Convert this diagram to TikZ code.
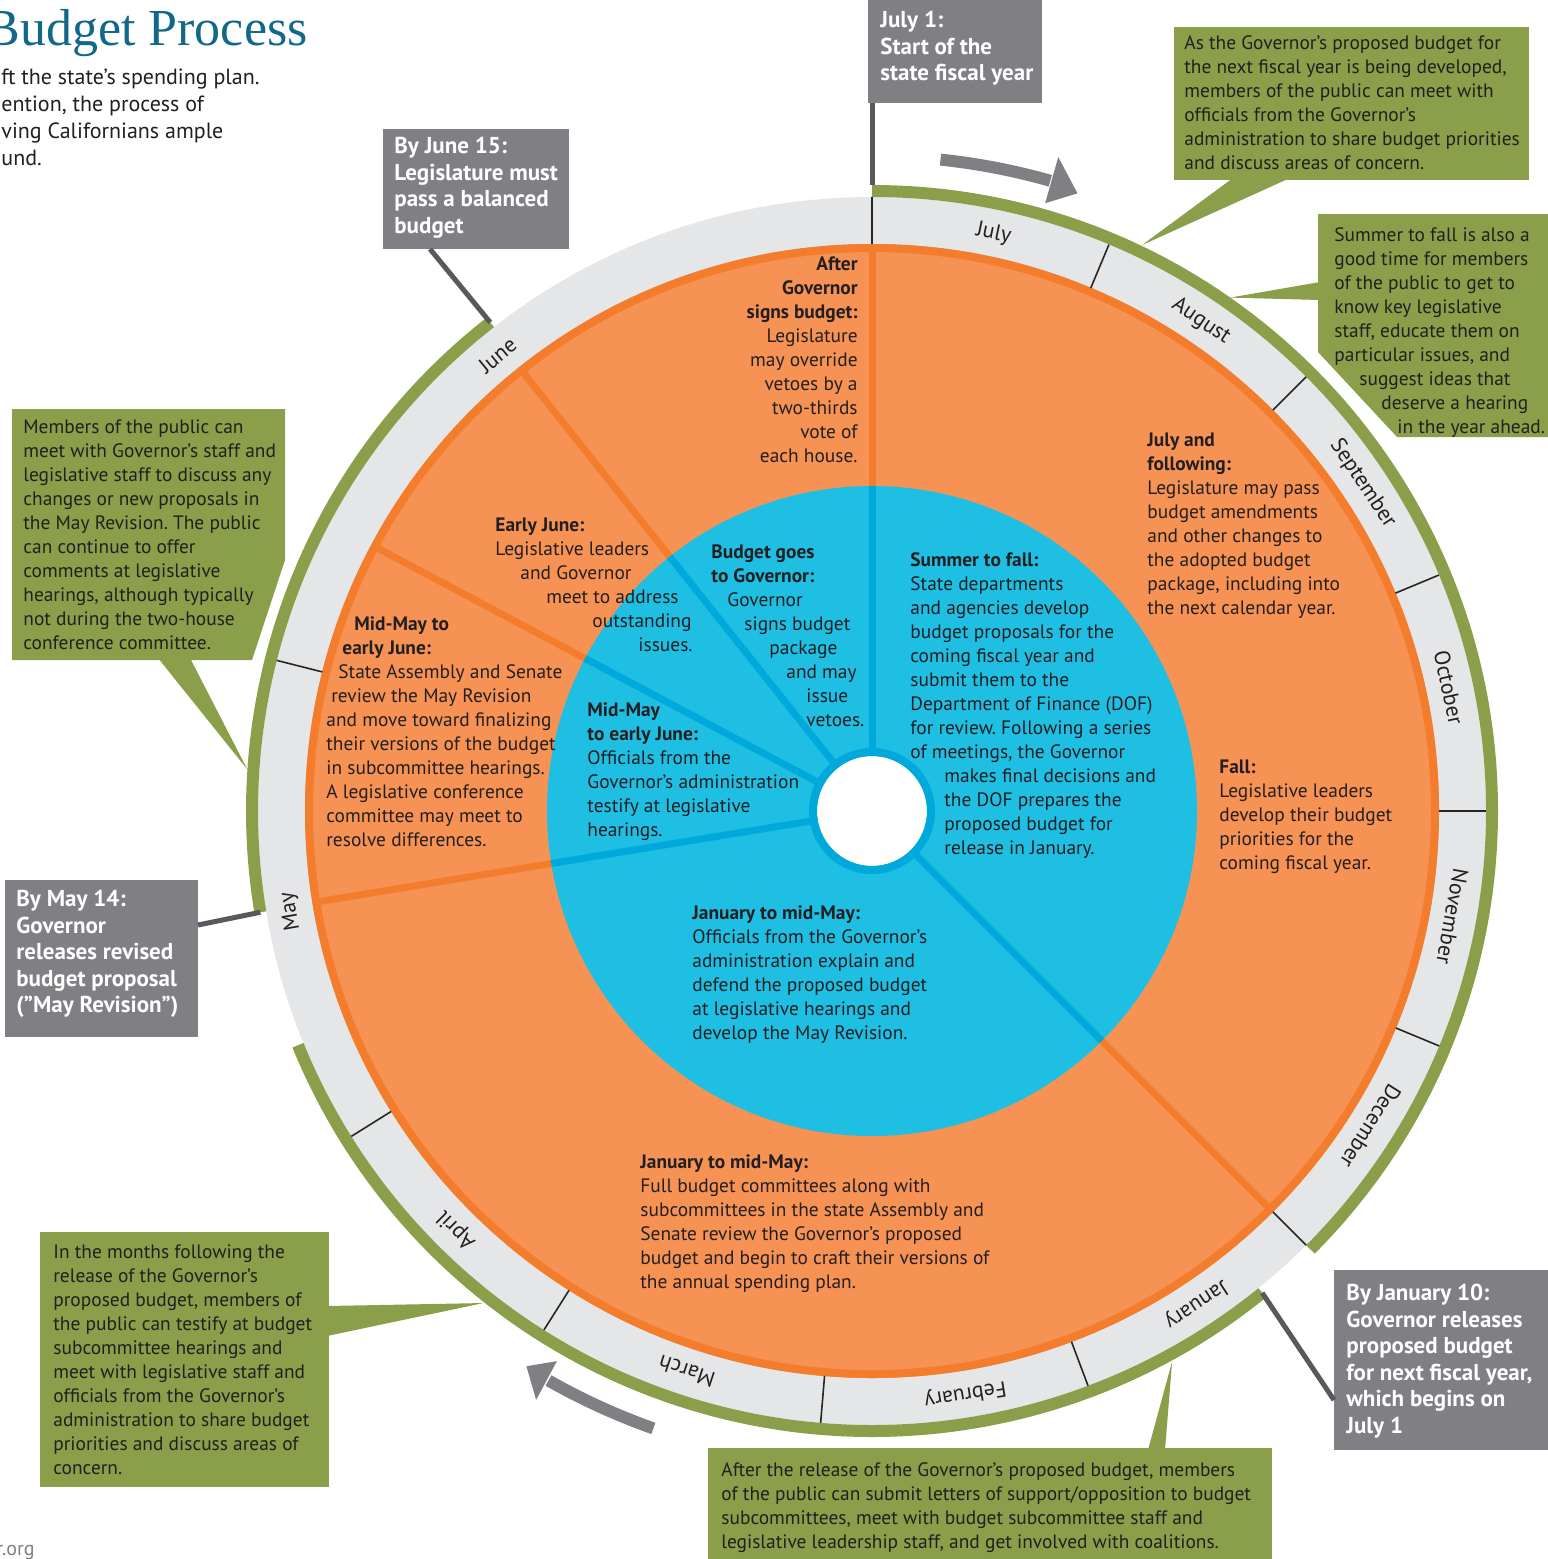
\documentclass[tikz,border=0pt]{standalone}
\usepackage{fontspec}
\setmainfont{PT Sans}
\newfontfamily\titlefont{Liberation Serif}
\usetikzlibrary{calc}
\frenchspacing
\definecolor{orfill}{RGB}{246,147,84}
\definecolor{ordark}{RGB}{243,124,45}
\definecolor{blfill}{RGB}{31,191,228}
\definecolor{bldark}{RGB}{0,169,220}
\definecolor{ringgray}{RGB}{229,230,231}
\definecolor{grn}{RGB}{139,159,74}
\definecolor{boxgray}{RGB}{128,127,131}
\definecolor{leadgray}{RGB}{88,89,91}
\definecolor{txt}{RGB}{35,31,32}
\definecolor{titleteal}{RGB}{17,104,137}
\begin{document}
\frenchspacing
\begin{tikzpicture}[x=0.5pt,y=0.5pt,
  body/.style={inner sep=0pt, text=txt, font=\fontsize{9.7}{12}\selectfont, align=left, anchor=north west},
  bodyr/.style={body, align=right, anchor=north east},
  gboxtext/.style={inner sep=0pt, text=white, font=\bfseries\fontsize{11.5}{13.25}\selectfont, align=left, anchor=north west},
  month/.style={inner sep=0pt, text=txt, font=\fontsize{11}{13}\selectfont},
  leader/.style={draw=leadgray, line width=2.5pt},
  greenarc/.style={draw=grn, line width=6pt},
  monthtick/.style={draw=black!85, line width=0.8pt},
  odiv/.style={draw=ordark, line width=3.5pt},
  bdiv/.style={draw=bldark, line width=3.5pt},
  callout/.style={fill=grn},
  graybox/.style={fill=boxgray},
  arrowshaft/.style={draw=boxgray, line width=6pt}]
\useasboundingbox (0,0) rectangle (1548,-1559);

% ---------- title and intro ----------
\node[anchor=base east, inner sep=0pt, text=titleteal, font=\titlefont\fontsize{26}{30}\selectfont] (title) at (308,-45) {Budget Process};
\node[anchor=north west, inner sep=0pt, text=txt, font=\fontsize{11}{13.5}\selectfont, align=left] (intro) at (1,-65)
  {\strut ft the state’s spending plan.\\ention, the process of\\ving Californians ample\\und.};
\node[anchor=west, inner sep=0pt, text=boxgray, font=\fontsize{10}{12}\selectfont] (web) at (-4,-1552) {r.org};

% ---------- wheel ----------
\begin{scope}[shift={(872,-811)}]
  \fill[ringgray] (0,0) circle (614);
  \draw[greenarc] (90:620) arc (90:-45:620);
  \draw[greenarc] (-51:620) arc (-51:-157.8:620);
  \draw[greenarc] (189.4:620) arc (189.4:128:620);
  \fill[orfill] (0,0) circle (567);
  \draw[ordark, line width=4pt] (0,0) circle (563);
  \fill[blfill] (0,0) circle (325);
  \foreach \a in {90,128.5,152,189.3,-45} {
    \draw[odiv] (\a:325) -- (\a:563);
    \draw[bdiv] (\a:56) -- (\a:325);
  }
  \fill[white] (0,0) circle (55);
  \draw[bldark, line width=4pt] (0,0) circle (59);
  \foreach \a in {90,67.3,45,22.6,0,-22.5,-45,-69.4,-94.8,-122.3,-148,165.8}
    \draw[monthtick] (\a:567) -- (\a:614);
  % month labels
  \node[month, rotate=-11.9] (mjul) at (78.1:590) {July};
  \node[month, rotate=-33.9] (maug) at (56.1:590) {August};
  \node[month, rotate=-56.3] (msep) at (33.7:590) {September};
  \node[month, rotate=-77.9] (moct) at (12.1:590) {October};
  \node[month, rotate=-100.3] (mnov) at (-10.3:590) {November};
  \node[month, rotate=-122.3] (mdec) at (-32.3:590) {December};
  \node[month, rotate=-146.7] (mjan) at (-56.7:590) {January};
  \node[month, rotate=-170.9] (mfeb) at (-80.9:590) {February};
  \node[month, rotate=161.7] (mmar) at (-108.3:590) {March};
  \node[month, rotate=135.2] (mapr) at (-134.8:590) {April};
  \node[month, rotate=99.8] (mmay) at (-170.2:590) {May};
  \node[month, rotate=39.4] (mjun) at (129.4:590) {June};
  % arrows
  \draw[arrowshaft] (84:655) arc (84:74.2:655);
  \fill[boxgray] (74.1:680) -- (71.6:651) -- (74.1:632) -- cycle;
  \draw[arrowshaft] (-109.5:655) arc (-109.5:-119.6:655);
  \fill[boxgray] (-119.8:634) -- (-121.9:654) -- (-119.7:678) -- cycle;
  % named points on the wheel
  \coordinate (tipTR) at (64.5:627);
  \coordinate (tipS) at (55.1:626);
  \coordinate (tipL) at (176.2:626);
  \coordinate (tipBL) at (-128.3:627);
  \coordinate (tipB) at (-61.4:627);
  \coordinate (ljul) at (90:626);
  \coordinate (ljun) at (128:620);
  \coordinate (lmay) at (189.4:620);
  \coordinate (ljan) at (-51:620);
\end{scope}

% ---------- texts in the wheel ----------
\node[bodyr] (after) at (858,-253) {\strut\textbf{After}\\\textbf{Governor}\\\textbf{signs budget:}\\Legislature\\may override\\vetoes by a\\two-thirds\\vote of\\each house.};
\node[body] (julyf) at (1147,-429) {\strut\textbf{July and}\\\textbf{following:}\\Legislature may pass\\budget amendments\\and other changes to\\the adopted budget\\package, including into\\the next calendar year.};
\node[body] (fall) at (1219,-756) {\strut\textbf{Fall:}\\Legislative leaders\\develop their budget\\priorities for the\\coming fiscal year.};
\node[body] (summer) at (910,-549) {\strut\textbf{Summer to fall:}\\State departments\\and agencies develop\\budget proposals for the\\coming fiscal year and\\submit them to the\\Department of Finance (DOF)\\for review. Following a series\\of meetings, the Governor\\\hspace*{17pt}makes final decisions and\\\hspace*{17pt}the DOF prepares the\\\hspace*{17pt}proposed budget for\\\hspace*{17pt}release in January.};
\node[body] (goes) at (711,-541) {\strut\textbf{Budget goes}\\\textbf{to Governor:}\\\hspace*{8pt}Governor\\\hspace*{16.5pt}signs budget\\\hspace*{29pt}package\\\hspace*{37.5pt}and may\\\hspace*{47.5pt}issue\\\hspace*{47.5pt}vetoes.};
\node[body] (early) at (495,-514) {\strut\textbf{Early June:}\\Legislative leaders\\\hspace*{12.5pt}and Governor\\\hspace*{25.5pt}meet to address\\\hspace*{48.5pt}outstanding\\\hspace*{71.5pt}issues.};
\node[body] (midor) at (326,-613) {\strut\hspace*{14pt}\textbf{Mid-May to}\\\hspace*{8pt}\textbf{early June:}\\\hspace*{6pt}State Assembly and Senate\\\hspace*{2.5pt}review the May Revision\\and move toward finalizing\\their versions of the budget\\in subcommittee hearings.\\A legislative conference\\committee may meet to\\resolve differences.};
\node[body] (midbl) at (587,-699) {\strut\textbf{Mid-May}\\\textbf{to early June:}\\Officials from the\\Governor’s administration\\testify at legislative\\hearings.};
\node[body] (janbl) at (692,-902) {\strut\textbf{January to mid-May:}\\Officials from the Governor’s\\administration explain and\\defend the proposed budget\\at legislative hearings and\\develop the May Revision.};
\node[body] (janor) at (640,-1151) {\strut\textbf{January to mid-May:}\\Full budget committees along with\\subcommittees in the state Assembly and\\Senate review the Governor's proposed\\budget and begin to craft their versions of\\the annual spending plan.};

% ---------- gray date boxes and leaders ----------
\fill[graybox] (868,0) rectangle (1042,-103);
\coordinate (bjul) at (872,-103);
\node[gboxtext] (tjul) at (880,-9) {\strut July 1:\\Start of the\\state fiscal year};
\draw[leader] (bjul) -- (ljul);

\fill[graybox] (383,-129) rectangle (569,-249);
\coordinate (bjun) at (430,-249);
\node[gboxtext] (tjun) at (394,-135) {\strut By June 15:\\Legislature must\\pass a balanced\\budget};
\draw[leader] (bjun) -- (ljun);

\fill[graybox] (5,-880) rectangle (198,-1037);
\coordinate (bmay) at (198,-925);
\node[gboxtext] (tmay) at (16,-888) {\strut By May 14:\\Governor\\releases revised\\budget proposal\\(”May Revision”)};
\draw[leader] (bmay) -- (lmay);

\fill[graybox] (1334,-1270) rectangle (1550,-1450);
\coordinate (bjan) at (1334,-1400);
\node[gboxtext] (tjan) at (1346,-1282) {\strut By January 10:\\Governor releases\\proposed budget\\for next fiscal year,\\which begins on\\July 1};
\draw[leader] (bjan) -- (ljan);

% ---------- green callouts ----------
\fill[callout] (1174,-27) rectangle (1529,-180);
\fill[callout] (1233,-178) -- (1290,-178) -- (tipTR) -- cycle;
\node[body] (ctr) at (1184,-32) {\strut As the Governor’s proposed budget for\\the next fiscal year is being developed,\\members of the public can meet with\\officials from the Governor’s\\administration to share budget priorities\\and discuss areas of concern.};

\fill[callout] (1318,-214) -- (1550,-214) -- (1550,-437) -- (1397,-437) -- (1318,-352) -- cycle;
\fill[callout] (1320,-282) -- (1320,-300) -- (tipS) -- cycle;
\node[body] (csum) at (1334,-224) {\strut Summer to fall is also a\\good time for members\\of the public to get to\\know key legislative\\staff, educate them on\\particular issues, and\\\hspace*{12.5pt}suggest ideas that\\\hspace*{23.5pt}deserve a hearing\\\hspace*{31.5pt}in the year ahead.};

\fill[callout] (12,-409) -- (285,-409) -- (285,-560) -- (252,-660) -- (12,-660) -- cycle;
\fill[callout] (158,-658) -- (190,-658) -- (tipL) -- cycle;
\node[body] (cleft) at (23,-416) {\strut Members of the public can\\meet with Governor’s staff and\\legislative staff to discuss any\\changes or new proposals in\\the May Revision. The public\\can continue to offer\\comments at legislative\\hearings, although typically\\not during the two-house\\conference committee.};

\fill[callout] (40,-1232) rectangle (329,-1487);
\fill[callout] (327,-1306) -- (327,-1336) -- (tipBL) -- cycle;
\node[body] (cbl) at (53,-1241) {\strut In the months following the\\release of the Governor’s\\proposed budget, members of\\the public can testify at budget\\subcommittee hearings and\\meet with legislative staff and\\officials from the Governor’s\\administration to share budget\\priorities and discuss areas of\\concern.};

\fill[callout] (708,-1448) rectangle (1272,-1562);
\fill[callout] (1148,-1450) -- (1165,-1450) -- (tipB) -- cycle;
\node[body] (cbot) at (721,-1459) {\strut After the release of the Governor’s proposed budget, members\\of the public can submit letters of support/opposition to budget\\subcommittees, meet with budget subcommittee staff and\\legislative leadership staff, and get involved with coalitions.};
\end{tikzpicture}
\end{document}
